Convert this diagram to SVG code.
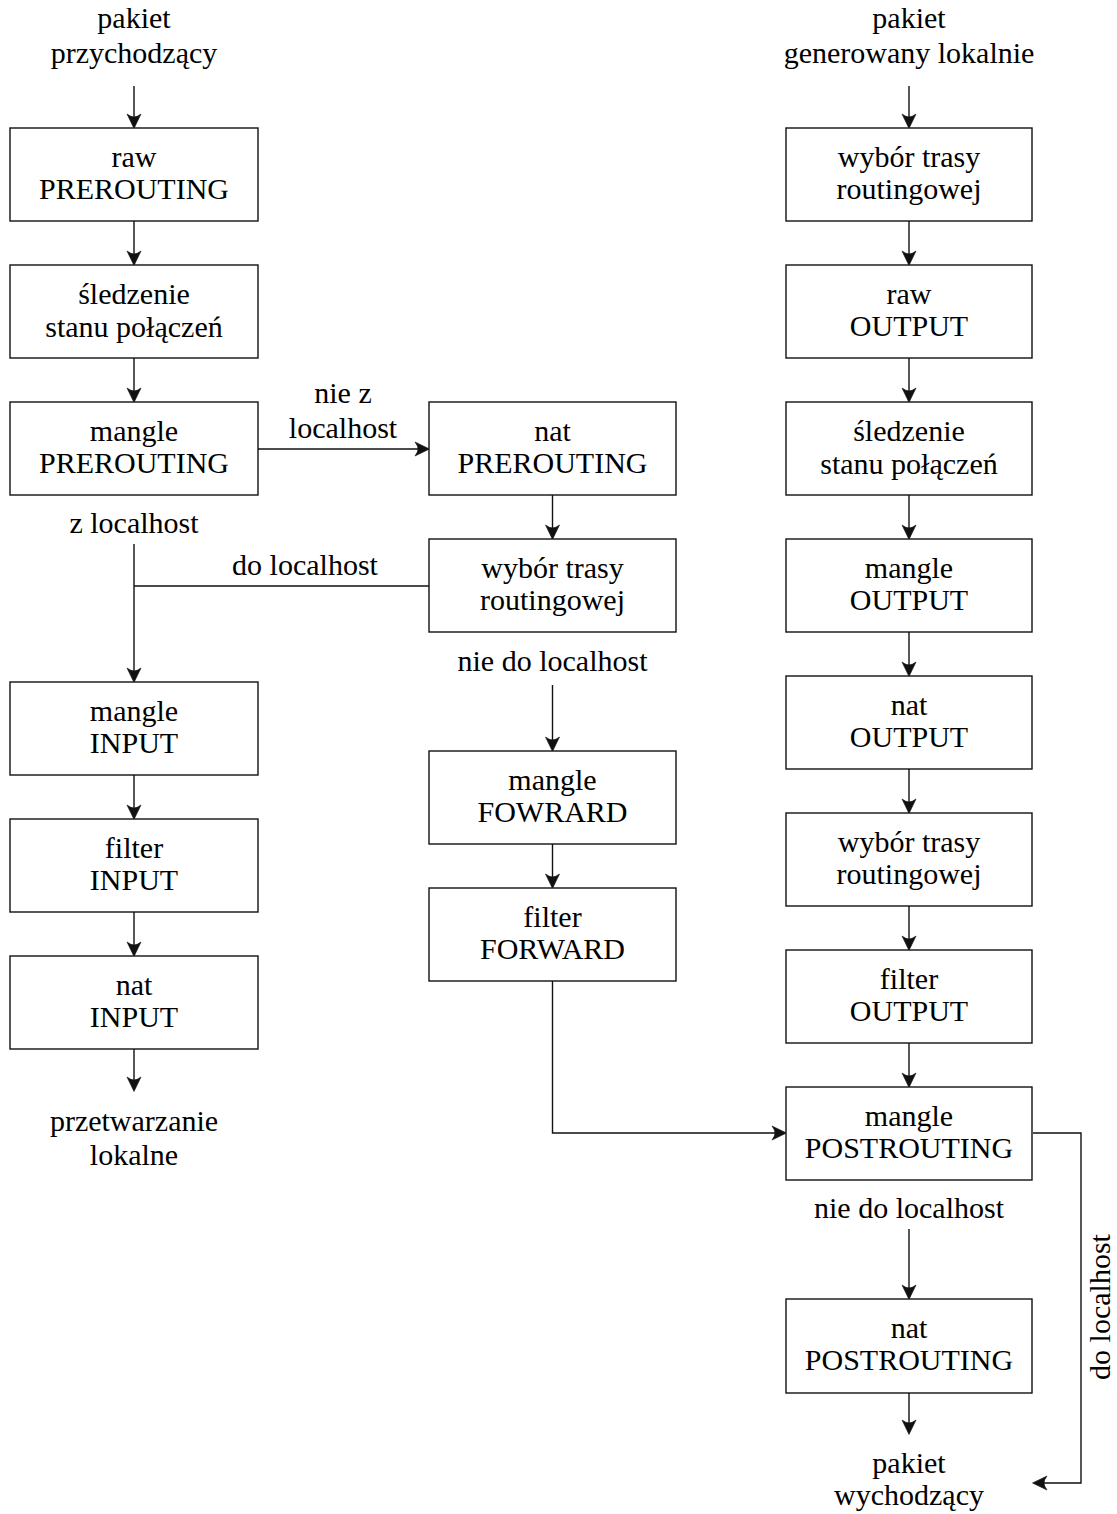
<svg xmlns="http://www.w3.org/2000/svg" width="1117" height="1514" viewBox="0 0 1117 1514">
<style>
text{font-family:"Liberation Serif","Times New Roman",serif;font-size:30px;fill:#000;text-anchor:middle}
.box{fill:#fff;stroke:#111;stroke-width:1.4}
.ln{fill:none;stroke:#111;stroke-width:1.4}
.ah{fill:#111;stroke:#111;stroke-width:0.6;stroke-linejoin:miter}
</style>
<defs>
<marker id="arr" markerWidth="20" markerHeight="20" refX="-5" refY="0" orient="auto" markerUnits="userSpaceOnUse" overflow="visible">
<path class="ah" d="M0.5,0 L-14,-7 Q-11,-3 -11,0 Q-11,3 -14,7 Z"/>
</marker>
</defs>

<g id="connectors">
<line class="ln" x1="134" y1="86" x2="134" y2="123" marker-end="url(#arr)"/>
<line class="ln" x1="134" y1="221" x2="134" y2="260" marker-end="url(#arr)"/>
<line class="ln" x1="134" y1="358" x2="134" y2="397" marker-end="url(#arr)"/>
<line class="ln" x1="258" y1="449" x2="424" y2="449" marker-end="url(#arr)"/>
<line class="ln" x1="134" y1="544" x2="134" y2="677" marker-end="url(#arr)"/>
<line class="ln" x1="429" y1="586" x2="134" y2="586"/>
<line class="ln" x1="134" y1="775" x2="134" y2="814" marker-end="url(#arr)"/>
<line class="ln" x1="134" y1="912" x2="134" y2="951" marker-end="url(#arr)"/>
<line class="ln" x1="134" y1="1049" x2="134" y2="1086" marker-end="url(#arr)"/>
<line class="ln" x1="552.5" y1="495" x2="552.5" y2="534" marker-end="url(#arr)"/>
<line class="ln" x1="552.5" y1="685" x2="552.5" y2="746" marker-end="url(#arr)"/>
<line class="ln" x1="552.5" y1="844" x2="552.5" y2="883" marker-end="url(#arr)"/>
<polyline class="ln" points="552.5,981 552.5,1133 781,1133" marker-end="url(#arr)"/>
<line class="ln" x1="909" y1="86" x2="909" y2="123" marker-end="url(#arr)"/>
<line class="ln" x1="909" y1="221" x2="909" y2="260" marker-end="url(#arr)"/>
<line class="ln" x1="909" y1="358" x2="909" y2="397" marker-end="url(#arr)"/>
<line class="ln" x1="909" y1="495" x2="909" y2="534" marker-end="url(#arr)"/>
<line class="ln" x1="909" y1="632" x2="909" y2="671" marker-end="url(#arr)"/>
<line class="ln" x1="909" y1="769" x2="909" y2="808" marker-end="url(#arr)"/>
<line class="ln" x1="909" y1="906" x2="909" y2="945" marker-end="url(#arr)"/>
<line class="ln" x1="909" y1="1043" x2="909" y2="1082" marker-end="url(#arr)"/>
<line class="ln" x1="909" y1="1229" x2="909" y2="1294" marker-end="url(#arr)"/>
<line class="ln" x1="909" y1="1393" x2="909" y2="1429" marker-end="url(#arr)"/>
<polyline class="ln" points="1033,1133 1081,1133 1081,1483 1038,1483" marker-end="url(#arr)"/>
</g>

<g id="labels">
<text x="134" y="28">pakiet</text>
<text x="134" y="63">przychodzący</text>
<text x="909" y="28">pakiet</text>
<text x="909" y="63">generowany lokalnie</text>
<text x="343" y="403">nie z</text>
<text x="343" y="438">localhost</text>
<text x="134" y="533">z localhost</text>
<text x="305" y="575">do localhost</text>
<text x="552.5" y="671">nie do localhost</text>
<text x="134" y="1131">przetwarzanie</text>
<text x="134" y="1165">lokalne</text>
<text x="909" y="1218">nie do localhost</text>
<text x="909" y="1473">pakiet</text>
<text x="909" y="1505">wychodzący</text>
<text transform="translate(1110,1307) rotate(-90)">do localhost</text>
</g>

<g id="n-raw-pre"><rect class="box" x="10" y="128" width="248" height="93"/><text x="134" y="167">raw</text><text x="134" y="199">PREROUTING</text></g>
<g id="n-conntrack-l"><rect class="box" x="10" y="265" width="248" height="93"/><text x="134" y="304">śledzenie</text><text x="134" y="337">stanu połączeń</text></g>
<g id="n-mangle-pre"><rect class="box" x="10" y="402" width="248" height="93"/><text x="134" y="441">mangle</text><text x="134" y="473">PREROUTING</text></g>
<g id="n-mangle-input"><rect class="box" x="10" y="682" width="248" height="93"/><text x="134" y="721">mangle</text><text x="134" y="753">INPUT</text></g>
<g id="n-filter-input"><rect class="box" x="10" y="819" width="248" height="93"/><text x="134" y="858">filter</text><text x="134" y="890">INPUT</text></g>
<g id="n-nat-input"><rect class="box" x="10" y="956" width="248" height="93"/><text x="134" y="995">nat</text><text x="134" y="1027">INPUT</text></g>

<g id="n-nat-pre"><rect class="box" x="429" y="402" width="247" height="93"/><text x="552.5" y="441">nat</text><text x="552.5" y="473">PREROUTING</text></g>
<g id="n-route-m"><rect class="box" x="429" y="539" width="247" height="93"/><text x="552.5" y="578">wybór trasy</text><text x="552.5" y="610">routingowej</text></g>
<g id="n-mangle-fwd"><rect class="box" x="429" y="751" width="247" height="93"/><text x="552.5" y="790">mangle</text><text x="552.5" y="822">FOWRARD</text></g>
<g id="n-filter-fwd"><rect class="box" x="429" y="888" width="247" height="93"/><text x="552.5" y="927">filter</text><text x="552.5" y="959">FORWARD</text></g>

<g id="n-route-r1"><rect class="box" x="786" y="128" width="246" height="93"/><text x="909" y="167">wybór trasy</text><text x="909" y="199">routingowej</text></g>
<g id="n-raw-out"><rect class="box" x="786" y="265" width="246" height="93"/><text x="909" y="304">raw</text><text x="909" y="336">OUTPUT</text></g>
<g id="n-conntrack-r"><rect class="box" x="786" y="402" width="246" height="93"/><text x="909" y="441">śledzenie</text><text x="909" y="474">stanu połączeń</text></g>
<g id="n-mangle-out"><rect class="box" x="786" y="539" width="246" height="93"/><text x="909" y="578">mangle</text><text x="909" y="610">OUTPUT</text></g>
<g id="n-nat-out"><rect class="box" x="786" y="676" width="246" height="93"/><text x="909" y="715">nat</text><text x="909" y="747">OUTPUT</text></g>
<g id="n-route-r2"><rect class="box" x="786" y="813" width="246" height="93"/><text x="909" y="852">wybór trasy</text><text x="909" y="884">routingowej</text></g>
<g id="n-filter-out"><rect class="box" x="786" y="950" width="246" height="93"/><text x="909" y="989">filter</text><text x="909" y="1021">OUTPUT</text></g>
<g id="n-mangle-post"><rect class="box" x="786" y="1087" width="246" height="93"/><text x="909" y="1126">mangle</text><text x="909" y="1158">POSTROUTING</text></g>
<g id="n-nat-post"><rect class="box" x="786" y="1299" width="246" height="94"/><text x="909" y="1338">nat</text><text x="909" y="1370">POSTROUTING</text></g>
</svg>
